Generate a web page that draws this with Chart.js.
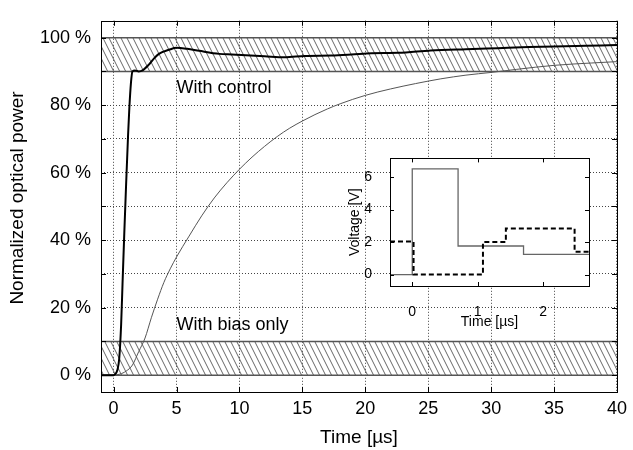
<!DOCTYPE html>
<html>
<head>
<meta charset="utf-8">
<script src="https://cdn.jsdelivr.net/npm/chart.js@4.4.1/dist/chart.umd.min.js"></script>
<style>
  body { margin: 0; background: #fff; }
  #wrap { position: relative; width: 633px; height: 450px; }
  #main { position: absolute; left: 0; top: 0; }
  #inset { position: absolute; left: 340px; top: 140px; }
</style>
</head>
<body>
<div id="wrap">
  <canvas id="main" width="633" height="450"></canvas>
  <canvas id="inset" width="255" height="195"></canvas>
</div>
<script>
// main plot: time in µs, power in %
var timeTicks = [0, 5, 10, 15, 20, 25, 30, 35, 40];
var powerTicks = [0, 10, 20, 30, 40, 50, 60, 70, 80, 90, 100];

var ctrlTime = [-1, 0, 0.1, 0.3, 0.45, 0.6, 0.71, 0.85, 1.0, 1.15, 1.25, 1.38, 1.5, 1.7, 2.0, 2.3, 2.8, 3.2, 3.6, 4.4, 5.0,
                5.85, 6.8, 8.4, 9.4, 12, 13.6, 15.2, 17.3, 18.9, 20.5, 22.6, 25.2, 28, 30.5, 33, 35, 37.5, 40];
var ctrlPower = [0, 0, 0.2, 1.5, 5, 15, 27, 42, 57, 71, 79, 86.6, 90, 90.3, 90, 90.3, 92, 93.8, 95.2, 96.4, 97,
                 96.7, 96.1, 95.2, 95, 94.5, 94.2, 94.6, 94.7, 95, 95.4, 95.5, 96.2, 96.6, 96.9, 97.2, 97.4, 97.6, 97.8];

var biasTime = [-1, 0, 0.5, 1, 1.5, 2, 2.5, 3, 3.5, 4, 4.5, 5, 6, 7, 8, 9, 10, 11, 12, 13, 14, 15, 16, 17, 18,
                20, 22, 24, 26, 28, 30, 32, 35, 38, 40];
var biasPower = [0, 0, 0.3, 1.2, 3, 7, 11, 17, 22.5, 27.5, 31.5, 35, 41.2, 47.2, 52.5, 57, 61, 64.6, 67.8, 70.7, 73.2, 75.3, 77.2, 78.9, 80.4,
                 82.9, 84.8, 86.4, 87.8, 88.9, 89.7, 90.6, 91.8, 92.5, 92.9];

// tolerance bands
var bandLow = [0, 10];
var bandHigh = [90, 100];

// inset: drive voltages
var voltTicksX = [0, 1, 2];
var voltTicksY = [0, 2, 4, 6];
var solidTime = [-0.34, 0.0, 0.70, 1.70, 2.70];
var solidVolt = [0, 6.5, 1.76, 1.25, 1.25];
var dashTime = [-0.34, 0.02, 1.08, 1.43, 2.48, 2.70];
var dashVolt = [2.04, 0, 2.0, 2.83, 1.4, 1.4];

Chart.defaults.font.family = "'Liberation Sans', Arial, sans-serif";
Chart.defaults.color = '#000';

function hatch() {
    var c = document.createElement('canvas');
    c.width = 6; c.height = 12;
    var g = c.getContext('2d');
    g.strokeStyle = '#555';
    g.lineWidth = 0.9;
    g.beginPath();
    [-6, 0, 6].forEach(function (dx) {
        g.moveTo(dx, 0);
        g.lineTo(dx + 6, 12);
    });
    g.stroke();
    return g.createPattern(c, 'repeat');
}
var pattern = hatch();

function pts(xs, ys) {
    return xs.map(function (x, i) { return {x: x, y: ys[i]}; });
}
function flat(v) {
    return [{x: -1, y: v}, {x: 40, y: v}];
}
function bandSet(v, fill) {
    return {
        data: flat(v), borderColor: '#555', borderWidth: 1.5, pointRadius: 0,
        fill: fill ? '-1' : false, backgroundColor: pattern, order: 2
    };
}

// frame and inward tick marks
function frameTicks(len) {
    return {
        id: 'frame',
        afterDatasetsDraw: function (chart) {
            var ctx = chart.ctx, a = chart.chartArea;
            var sx = chart.scales.x, sy = chart.scales.y;
            ctx.save();
            ctx.strokeStyle = '#000';
            ctx.lineWidth = 1;
            ctx.beginPath();
            sx.ticks.forEach(function (t) {
                var px = Math.round(sx.getPixelForValue(t.value)) + 0.5;
                ctx.moveTo(px, a.bottom); ctx.lineTo(px, a.bottom - len);
                ctx.moveTo(px, a.top); ctx.lineTo(px, a.top + len);
            });
            sy.ticks.forEach(function (t) {
                var py = Math.round(sy.getPixelForValue(t.value)) + 0.5;
                ctx.moveTo(a.left, py); ctx.lineTo(a.left + len, py);
                ctx.moveTo(a.right, py); ctx.lineTo(a.right - len, py);
            });
            ctx.stroke();
            ctx.strokeRect(Math.round(a.left) + 0.5, Math.round(a.top) + 0.5,
                           Math.round(a.right - a.left), Math.round(a.bottom - a.top));
            ctx.restore();
        }
    };
}

var notes = {
    id: 'notes',
    afterDatasetsDraw: function (chart) {
        var ctx = chart.ctx, sx = chart.scales.x, sy = chart.scales.y;
        ctx.save();
        ctx.fillStyle = '#000';
        ctx.font = "18px 'Liberation Sans', Arial, sans-serif";
        ctx.textAlign = 'left';
        ctx.textBaseline = 'middle';
        ctx.fillText('With control', sx.getPixelForValue(5), sy.getPixelForValue(85.2));
        ctx.fillText('With bias only', sx.getPixelForValue(5), sy.getPixelForValue(14.8));
        // y axis title, sits a little above the axis centre
        ctx.font = "19px 'Liberation Sans', Arial, sans-serif";
        ctx.textAlign = 'center';
        ctx.translate(18, sy.getPixelForValue(52.5));
        ctx.rotate(-Math.PI / 2);
        ctx.fillText('Normalized optical power', 0, 0);
        ctx.restore();
    }
};

new Chart(document.getElementById('main'), {
    type: 'line',
    data: {
        datasets: [
            {data: pts(ctrlTime, ctrlPower), borderColor: '#000', borderWidth: 2, pointRadius: 0,
             cubicInterpolationMode: 'monotone', order: 0},
            {data: pts(biasTime, biasPower), borderColor: '#555', borderWidth: 1, pointRadius: 0,
             cubicInterpolationMode: 'monotone', order: 1},
            bandSet(bandLow[0], false),
            bandSet(bandLow[1], true),
            bandSet(bandHigh[0], false),
            bandSet(bandHigh[1], true)
        ]
    },
    options: {
        responsive: false,
        animation: false,
        layout: {padding: {left: 0, top: 9, right: 12, bottom: 0}},
        plugins: {legend: {display: false}, tooltip: {enabled: false}},
        scales: {
            x: {
                type: 'linear', min: -1, max: 40,
                afterBuildTicks: function (s) { s.ticks = timeTicks.map(function (v) { return {value: v}; }); },
                afterFit: function (s) { s.height = 58; },
                grid: {color: '#444', drawTicks: false},
                border: {display: false, dash: [1, 2]},
                ticks: {padding: 6, font: {size: 18}, maxRotation: 0, autoSkip: false},
                title: {display: true, text: 'Time [µs]', font: {size: 19}, padding: {top: 0, bottom: 1}}
            },
            y: {
                type: 'linear', min: -5, max: 105,
                afterBuildTicks: function (s) { s.ticks = powerTicks.map(function (v) { return {value: v}; }); },
                afterFit: function (s) { s.width = 101; },
                grid: {color: '#444', drawTicks: false},
                border: {display: false, dash: [1, 2]},
                ticks: {padding: 10, font: {size: 18}, autoSkip: false,
                        callback: function (v) { return v % 20 === 0 ? v + ' %' : ''; }}
            }
        }
    },
    plugins: [frameTicks(5), notes]
});

var whiteBox = {
    id: 'whiteBox',
    beforeDraw: function (chart) {
        var a = chart.chartArea;
        chart.ctx.save();
        chart.ctx.fillStyle = '#fff';
        chart.ctx.fillRect(a.left, a.top, a.right - a.left, a.bottom - a.top);
        chart.ctx.restore();
    }
};

new Chart(document.getElementById('inset'), {
    type: 'line',
    data: {
        datasets: [
            {data: pts(dashTime, dashVolt), borderColor: '#000', borderWidth: 2, borderDash: [5, 3],
             pointRadius: 0, stepped: 'before'},
            {data: pts(solidTime, solidVolt), borderColor: '#666', borderWidth: 1.3,
             pointRadius: 0, stepped: 'before'}
        ]
    },
    options: {
        responsive: false,
        animation: false,
        layout: {padding: {left: 0, top: 8, right: 6, bottom: 0}},
        plugins: {legend: {display: false}, tooltip: {enabled: false}},
        scales: {
            x: {
                type: 'linear', min: -0.34, max: 2.7,
                afterBuildTicks: function (s) { s.ticks = voltTicksX.map(function (v) { return {value: v}; }); },
                afterFit: function (s) { s.height = 49; },
                grid: {display: false},
                border: {display: false},
                ticks: {padding: 10, font: {size: 14}, maxRotation: 0},
                title: {display: true, text: 'Time [µs]', font: {size: 14}, padding: {top: 0, bottom: 4}}
            },
            y: {
                type: 'linear', min: -0.7, max: 7.15,
                afterBuildTicks: function (s) { s.ticks = voltTicksY.map(function (v) { return {value: v}; }); },
                afterFit: function (s) { s.width = 50; },
                grid: {display: false},
                border: {display: false},
                ticks: {padding: 10, font: {size: 14}},
                title: {display: true, text: 'Voltage [V]', font: {size: 14}, padding: {top: 7, bottom: 0}}
            }
        }
    },
    plugins: [whiteBox, frameTicks(4)]
});
</script>
</body>
</html>
